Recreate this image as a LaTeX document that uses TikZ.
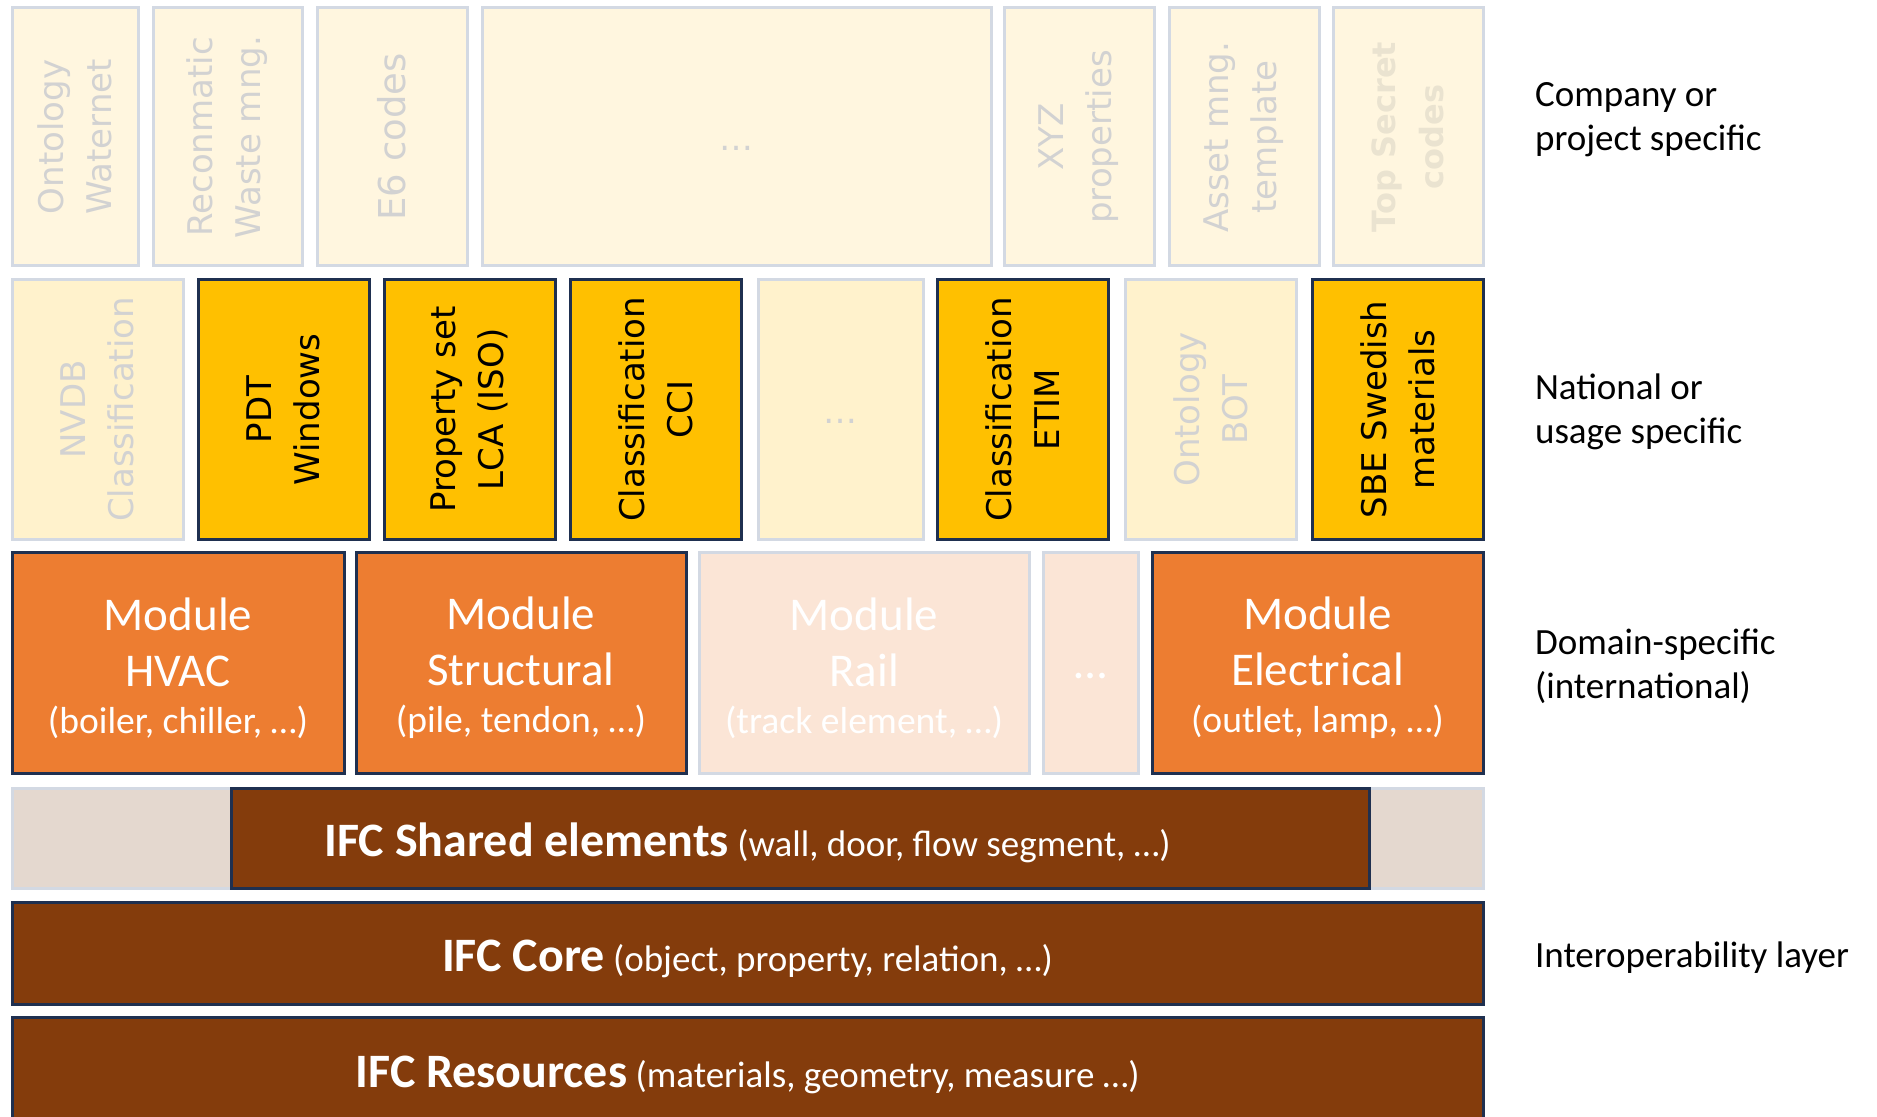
\documentclass[tikz,border=0pt]{standalone}
\usepackage{fontspec}
\setmainfont{Carlito}
\newfontfamily\boxfont{DejaVu Sans}
\usetikzlibrary{positioning}
\definecolor{creamfill}{HTML}{FFF6DF}
\definecolor{paleyellow}{HTML}{FFF2CC}
\definecolor{paleborder}{HTML}{D3D9E3}
\definecolor{paletext}{HTML}{D2D2D2}
\definecolor{secrettext}{HTML}{EAE3D0}
\definecolor{gold}{HTML}{FFC000}
\definecolor{navy}{HTML}{1F3050}
\definecolor{orangemod}{HTML}{ED7D31}
\definecolor{paleorange}{HTML}{FBE5D6}
\definecolor{brownifc}{HTML}{843C0C}
\definecolor{palebrown}{HTML}{E4D8CF}
\tikzset{%
	company/.style    = {draw=paleborder, fill=creamfill, line width=1.5pt, rotate=90, minimum width=129pt, inner sep=0pt, align=center, text=paletext, font=\boxfont\fontsize{17}{24}\selectfont},
	usage/.style      = {draw=navy, fill=gold, line width=1.5pt, rotate=90, minimum width=129.5pt, inner sep=0pt, align=center, font=\boxfont\fontsize{17}{24}\selectfont},
	usagefaded/.style = {usage, draw=paleborder, fill=paleyellow, text=paletext},
	module/.style     = {draw=navy, fill=orangemod, line width=1.5pt, minimum height=110.5pt, inner sep=0pt, align=center, text=white, font=\fontsize{23.5}{28}\selectfont},
	modulefaded/.style= {module, draw=paleborder, fill=paleorange},
	ifc/.style        = {draw=navy, fill=brownifc, line width=1.5pt, inner sep=0pt, minimum width=735.5pt, text height=22pt, text depth=4pt, text=white, font=\fontsize{18.5}{22}\selectfont},
	layer/.style      = {anchor=west, align=left, font=\fontsize{18.5}{22}\selectfont},
}
\newcommand{\ifcname}[1]{{\bfseries\fontsize{24}{28}\selectfont #1}}
\newcommand{\modsub}[1]{{\fontsize{18.8}{22}\selectfont #1}}

\begin{document}
\begin{tikzpicture}[x=0.5pt,y=-0.5pt]
		\useasboundingbox (0,0) rectangle (1877,1117);
		
		% company or project specific
		\foreach \cx/\w/\nm/\txt in {75/63/waternet/{Ontology\\Waternet}, 227.5/74.5/reconmatic/{Reconmatic\\Waste mng.}, 1079/75/xyz/{XYZ\\properties}, 1244/75/asset/{Asset mng.\\template}}
			\node[company, minimum height=\w pt] (\nm) at (\cx,137) {\txt};
		\node[company, minimum height=75pt, font=\boxfont\fontsize{18.5}{24}\selectfont] (ecodes) at (392,137) {E6 codes};
		\node[company, rotate=-90, minimum width=254.5pt, minimum height=129pt, text height=14pt, text depth=0pt] (companydots) at (736.5,137) {…};
		\node[company, minimum height=75pt, text=secrettext, font=\boxfont\bfseries\fontsize{16}{24}\selectfont] (secret) at (1408,137) {Top Secret\\codes};
		
		% national or usage specific
		\foreach \cx/\nm/\txt in {283.5/pdt/{PDT\\Windows}, 469.5/lca/{Property set\\LCA (ISO)}, 655.5/cci/{Classification\\CCI}, 1022.5/etim/{Classification\\ETIM}, 1397.5/sbe/{SBE Swedish\\materials}}
			\node[usage, minimum height=85.5pt] (\nm) at (\cx,409.5) {\txt};
		\foreach \cx/\nm/\txt in {97.5/nvdb/{NVDB\\Classification}, 1210.5/bot/{Ontology\\BOT}}
			\node[usagefaded, minimum height=85.5pt] (\nm) at (\cx,409.5) {\txt};
		\node[usagefaded, rotate=-90, minimum width=82.5pt, minimum height=129.5pt, text height=14pt, text depth=0pt] (usagedots) at (840.5,409.5) {…};
		
		% domain specific modules
		\node[module, minimum width=166pt] (hvac) at (178,662.5) {\rule{0pt}{22pt}Module\\HVAC\\[-4.5pt]\modsub{(boiler, chiller, …)}};
		\node[module, minimum width=165pt] (structural) at (521,662.5) {\rule{0pt}{22pt}Module\\Structural\\[-4.5pt]\modsub{(pile, tendon, …)}};
		\node[modulefaded, minimum width=165pt] (rail) at (864,662.5) {\rule{0pt}{22pt}Module\\Rail\\[-4.5pt]\modsub{(track element, …)}};
		\node[modulefaded, minimum width=47.5pt, text height=16pt, text depth=0pt] (moddots) at (1090.5,662.5) {…};
		\node[module, minimum width=165.5pt] (electrical) at (1317.5,662.5) {\rule{0pt}{22pt}Module\\Electrical\\[-4.5pt]\modsub{(outlet, lamp, …)}};
		
		% interoperability layer
		\node[draw=paleborder, fill=palebrown, line width=1.5pt, minimum width=735.5pt, minimum height=50pt] (sharedbg) at (747.5,838) {};
		\node[ifc, minimum width=569pt, minimum height=50pt] (shared) at (800,838) {};
		\node[text=white, text height=22pt, text depth=4pt, font=\fontsize{18.5}{22}\selectfont] (sharedtxt) at (sharedbg.center) {\ifcname{IFC Shared elements} (wall, door, flow segment, …)};
		\node[ifc, minimum height=51pt] (core) at (747.5,953) {\ifcname{IFC Core} (object, property, relation, …)};
		\node[ifc, minimum height=52.5pt] (resources) at (747.5,1069.5) {\ifcname{IFC Resources} (materials, geometry, measure …)};
		
		% layer labels
		\node[layer] (lblcompany) at (1528,120) {Company or\\project specific};
		\node[layer] (lblnational) at (1528,412) {National or\\usage specific};
		\node[layer] (lbldomain) at (1528,666) {Domain-specific\\(international)};
		\node[layer] (lblinterop) at (1528,958) {Interoperability layer};
		
\end{tikzpicture}
\end{document}
